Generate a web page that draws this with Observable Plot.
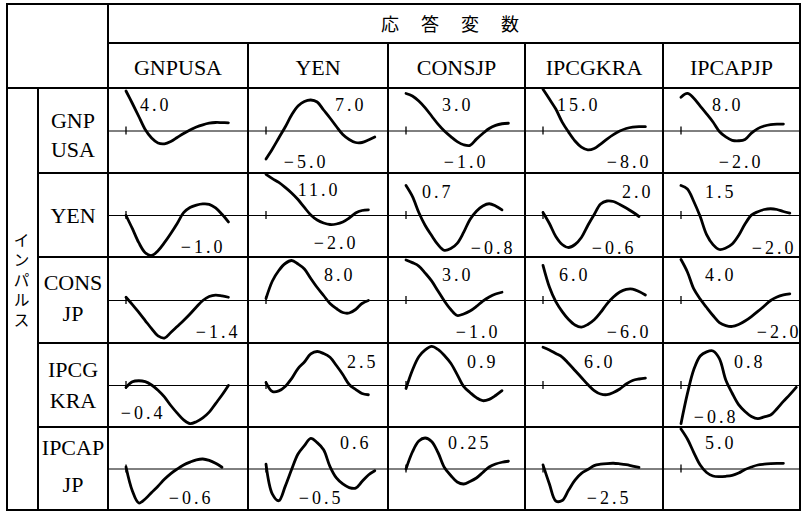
<!DOCTYPE html>
<html>
<head>
<meta charset="utf-8">
<script src="https://cdn.jsdelivr.net/npm/d3@7"></script>
<script src="https://cdn.jsdelivr.net/npm/@observablehq/plot@0.6"></script>
<style>
html,body{margin:0;padding:0;background:#fff;}
#chart{position:relative;width:805px;height:512px;background:#fff;overflow:hidden;}
.cell{position:absolute;}
.cell svg{display:block;max-width:none;}
</style>
</head>
<body>
<div id="chart"></div>
<script>
// ---- texts ----
const headerTitle = "応答変数";
const sideTitle = "インパルス";
const responseNames = ["GNPUSA", "YEN", "CONSJP", "IPCGKRA", "IPCAPJP"];
const impulseNames = [["GNP", "USA"], ["YEN"], ["CONS", "JP"], ["IPCG", "KRA"], ["IPCAP", "JP"]];

// ---- impulse responses (value at quarter t = 0, 1, 2, ...) ----
// impulse: GNPUSA
const gnp_gnpusa  = [4.0, 2.75, 1.45, 0.15, -0.7, -1.2, -1.28, -1.05, -0.65, -0.25, 0.1, 0.4, 0.62, 0.78, 0.85, 0.84, 0.82];
const gnp_yen     = [-5.6, -3.6, -1.4, 0.8, 3.2, 5.0, 5.9, 6.2, 5.8, 4.2, 2.6, 0.9, -0.7, -1.7, -2.3, -2.3, -1.8, -1.2];
const gnp_consjp  = [3.0, 2.8, 2.4, 1.85, 1.2, 0.55, 0.0, -0.45, -0.85, -1.1, -1.15, -0.65, -0.2, 0.2, 0.45, 0.58, 0.62];
const gnp_ipcgkra = [15.0, 11.5, 7.9, 3.2, -0.4, -3.6, -5.8, -6.8, -6.3, -4.7, -2.9, -1.3, 0.0, 0.9, 1.4, 1.6, 1.55];
const gnp_ipcapjp = [7.1, 7.9, 6.9, 5.25, 3.6, 1.9, -0.1, -1.25, -1.95, -2.05, -1.8, -0.45, 0.5, 1.05, 1.35, 1.45, 1.45];
// impulse: YEN
const yen_gnpusa  = [0.0, -0.33, -0.68, -0.93, -1.0, -0.88, -0.68, -0.45, -0.2, 0.07, 0.2, 0.26, 0.29, 0.28, 0.19, 0.03, -0.16];
const yen_yen     = [10.7, 9.6, 8.6, 7.3, 5.85, 4.15, 2.1, 0.13, -1.17, -1.95, -2.34, -2.21, -1.69, -0.65, 0.65, 1.3, 1.48];
const yen_consjp  = [0.69, 0.44, 0.07, -0.23, -0.46, -0.67, -0.8, -0.76, -0.64, -0.39, -0.09, 0.1, 0.22, 0.27, 0.22, 0.13];
const yen_ipcgkra = [0.06, -0.16, -0.42, -0.58, -0.64, -0.58, -0.44, -0.2, 0.02, 0.23, 0.29, 0.28, 0.22, 0.15, 0.07, -0.02];
const yen_ipcapjp = [1.65, 1.46, 0.77, -0.06, -1.05, -1.6, -1.87, -1.79, -1.57, -1.1, -0.47, 0.02, 0.21, 0.33, 0.37, 0.33, 0.22, 0.13];
// impulse: CONSJP
const cons_gnpusa  = [0.12, -0.15, -0.44, -0.74, -1.04, -1.31, -1.39, -1.18, -0.96, -0.74, -0.5, -0.24, 0.0, 0.15, 0.2, 0.17, 0.12];
const cons_yen     = [0.4, 3.9, 6.0, 7.4, 8.0, 7.3, 6.3, 4.4, 2.6, 1.0, -0.6, -1.6, -2.4, -2.5, -1.8, -0.6, 0.0];
const cons_consjp  = [3.0, 2.8, 2.55, 2.03, 1.45, 0.7, -0.04, -0.67, -1.11, -1.0, -0.78, -0.44, -0.04, 0.26, 0.48, 0.61];
const cons_ipcgkra = [6.0, 2.3, -0.2, -1.9, -3.25, -4.2, -4.55, -4.1, -3.3, -2.05, -0.56, 0.6, 1.45, 1.9, 1.95, 1.55, 0.94];
const cons_ipcapjp = [3.63, 2.53, 1.02, 0.13, -0.62, -1.33, -1.95, -2.22, -2.3, -2.13, -1.82, -1.42, -0.97, -0.49, 0.0, 0.31, 0.49, 0.59];
// impulse: IPCGKRA
const ipcg_gnpusa  = [-0.02, 0.04, 0.05, 0.04, 0.005, -0.05, -0.12, -0.21, -0.29, -0.36, -0.4, -0.38, -0.34, -0.28, -0.19, -0.1, 0.0];
const ipcg_yen     = [0.22, -0.44, -0.4, -0.07, 0.51, 1.25, 1.73, 2.32, 2.5, 2.35, 2.08, 1.47, 0.81, 0.07, -0.29, -0.59, -0.68];
const ipcg_consjp  = [-0.07, 0.35, 0.66, 0.82, 0.9, 0.83, 0.69, 0.51, 0.25, -0.02, -0.16, -0.28, -0.35, -0.32, -0.23, -0.12];
const ipcg_ipcgkra = [6.0, 5.57, 5.02, 4.47, 3.45, 2.36, 1.26, 0.16, -0.79, -1.33, -1.44, -1.1, -0.55, 0.24, 0.79, 1.02, 1.15];
const ipcg_ipcapjp = [-0.84, -0.18, 0.35, 0.65, 0.74, 0.76, 0.59, 0.12, -0.17, -0.42, -0.57, -0.68, -0.73, -0.69, -0.65, -0.51, -0.35, -0.2, -0.04];
// impulse: IPCAPJP
const ipcap_gnpusa  = [0.035, -0.385, -0.595, -0.525, -0.41, -0.3, -0.18, -0.08, 0.0, 0.07, 0.12, 0.16, 0.175, 0.15, 0.1, 0.03];
const ipcap_yen     = [0.08, -0.42, -0.53, -0.29, -0.01, 0.25, 0.39, 0.51, 0.44, 0.32, 0.04, -0.15, -0.25, -0.31, -0.32, -0.21, -0.1, -0.03];
const ipcap_consjp  = [0.0, 0.136, 0.224, 0.248, 0.22, 0.132, 0.012, -0.052, -0.104, -0.12, -0.1, -0.072, -0.028, 0.016, 0.04, 0.054, 0.062];
const ipcap_ipcgkra = [0.29, -1.07, -2.28, -2.25, -1.5, -0.79, -0.31, -0.04, 0.24, 0.34, 0.39, 0.41, 0.37, 0.31, 0.21, 0.11];
const ipcap_ipcapjp = [5.0, 3.75, 2.06, 0.5, -0.44, -0.88, -0.96, -0.91, -0.79, -0.5, -0.06, 0.25, 0.5, 0.6, 0.66, 0.7, 0.71];

// value shown at the top / bottom of each panel
const topLabels = [
  ["4.0", "7.0", "3.0", "15.0", "8.0"],
  [null, "11.0", "0.7", "2.0", "1.5"],
  [null, "8.0", "3.0", "6.0", "4.0"],
  [null, "2.5", "0.9", "6.0", "0.8"],
  [null, "0.6", "0.25", null, "5.0"]
];
const bottomLabels = [
  [null, "−5.0", "−1.0", "−8.0", "−2.0"],
  ["−1.0", "−2.0", "−0.8", "−0.6", "−2.0"],
  ["−1.4", null, "−1.0", "−6.0", "−2.0"],
  ["−0.4", null, null, null, "−0.8"],
  ["−0.6", "−0.5", null, "−2.5", null]
];

// vertical half-extent of each panel's y scale
const panelScale = [
  [4.25, 8.5, 3.4, 15.3, 8.93],
  [1.05, 10.92, 0.966, 0.84, 2.31],
  [1.59, 8.6, 3.18, 7.35, 3.81],
  [0.441, 3.09, 0.966, 6.59, 0.924],
  [0.726, 0.693, 0.332, 2.96, 5.19]
];

// ---- layout (pixels) ----
const colEdges = [108, 248, 388, 525, 663, 800];
const rowEdges = [88, 173, 257, 343, 427, 510];
const topLabelPos = [
  [[60,22],[115,22],[82,22],[72,22],[77,22]],
  [null,[89,22],[62,24],[125,24],[70,24]],
  [null,[104,23],[82,23],[62,23],[70,23]],
  [null,[127,24],[107,24],[87,24],[99,24]],
  [null,[120,21],[100,21],null,[70,21]]
];
const bottomLabelPos = [
  [null,[77,79],[97,79],[123,79],[97,79]],
  [[114,79],[107,75],[124,80],[108,80],[130,80]],
  [[129,80],null,[109,80],[123,80],[135,80]],
  [[54,75],null,null,null,[72,79]],
  [[102,76],[92,76],null,[103,76],null]
];
const rowLabelBaselines = [[128,157],[223],[290,321],[377,408],[455,492]];

const grid = [
  [gnp_gnpusa, gnp_yen, gnp_consjp, gnp_ipcgkra, gnp_ipcapjp],
  [yen_gnpusa, yen_yen, yen_consjp, yen_ipcgkra, yen_ipcapjp],
  [cons_gnpusa, cons_yen, cons_consjp, cons_ipcgkra, cons_ipcapjp],
  [ipcg_gnpusa, ipcg_yen, ipcg_consjp, ipcg_ipcgkra, ipcg_ipcapjp],
  [ipcap_gnpusa, ipcap_yen, ipcap_consjp, ipcap_ipcgkra, ipcap_ipcapjp]
];

const chart = d3.select("#chart");
const LS = 3; // letter spacing of numeric labels

for (let i = 0; i < 5; i++) {
  for (let j = 0; j < 5; j++) {
    const w = colEdges[j + 1] - colEdges[j];
    const h = rowEdges[i + 1] - rowEdges[i];
    const D = panelScale[i][j];
    const series = grid[i][j].map((v, t) => ({t, v}));
    const marks = [
      Plot.ruleY([0], {stroke: "#000", strokeWidth: 1}),
      Plot.ruleX([0], {stroke: "#000", strokeWidth: 1.3, insetTop: h / 2 - 4, insetBottom: h / 2 - 4}),
      Plot.line(series, {x: "t", y: "v", stroke: "#000", strokeWidth: 2.8, curve: "catmull-rom"})
    ];
    const labelOpts = {text: d => d, frameAnchor: "top-left", textAnchor: "end", lineAnchor: "bottom",
      fontSize: 18, fontFamily: "Liberation Serif", fill: "#000"};
    if (topLabels[i][j]) {
      const [rx, by] = topLabelPos[i][j];
      marks.push(Plot.text([topLabels[i][j]], {...labelOpts, dx: rx + LS, dy: by}));
    }
    if (bottomLabels[i][j]) {
      const [rx, by] = bottomLabelPos[i][j];
      marks.push(Plot.text([bottomLabels[i][j]], {...labelOpts, dx: rx + LS, dy: by}));
    }
    const svg = Plot.plot({
      width: w, height: h, margin: 0,
      x: {domain: [0, 16], range: [17.5, 17.5 + 102.4], axis: null},
      y: {domain: [-D, D], axis: null},
      style: `background:transparent;overflow:visible;letter-spacing:${LS}px;`,
      marks
    });
    chart.append("div").attr("class", "cell")
      .style("left", colEdges[j] + "px").style("top", rowEdges[i] + "px")
      .style("width", w + "px").style("height", h + "px")
      .node().appendChild(svg);
  }
}

// ---- table frame and headings ----
const frame = chart.append("svg").attr("width", 805).attr("height", 512)
  .style("position", "absolute").style("left", "0px").style("top", "0px").style("pointer-events", "none");
const bars = [
  [6, 3, 795, 2], [6, 509, 795, 2], [6, 3, 2, 508], [799, 3, 2, 508],
  [107, 42, 694, 2], [6, 87, 795, 2],
  ...rowEdges.slice(1, 5).map(y => [37, y - 1, 764, 2]),
  [107, 3, 2, 508], [37, 87, 2, 424],
  ...colEdges.slice(1, 5).map(x => [x - 1, 42, 2, 469])
];
frame.selectAll("rect").data(bars).join("rect")
  .attr("x", d => d[0]).attr("y", d => d[1]).attr("width", d => d[2]).attr("height", d => d[3]).attr("fill", "#000");

frame.append("text").text(headerTitle)
  .attr("x", 381).attr("y", 31)
  .attr("font-family", "Noto Sans CJK JP").attr("font-size", 18)
  .style("letter-spacing", "22px").attr("fill", "#000");

frame.selectAll("text.col").data(responseNames).join("text").attr("class", "col")
  .text(d => d)
  .attr("x", (d, j) => (colEdges[j] + colEdges[j + 1]) / 2).attr("y", 75)
  .attr("text-anchor", "middle")
  .attr("font-family", "Liberation Serif").attr("font-size", 22).attr("fill", "#000");

impulseNames.forEach((lines, i) => {
  lines.forEach((s, k) => {
    frame.append("text").text(s)
      .attr("x", 73).attr("y", rowLabelBaselines[i][k])
      .attr("text-anchor", "middle")
      .attr("font-family", "Liberation Serif").attr("font-size", 22).attr("fill", "#000");
  });
});

chart.append("div").text(sideTitle)
  .style("position", "absolute").style("left", "13.5px").style("top", "232px")
  .style("writing-mode", "vertical-rl").style("font-family", "Noto Sans CJK JP")
  .style("font-size", "16px").style("line-height", "16px").style("letter-spacing", "4px")
  .style("color", "#000");
</script>
</body>
</html>
